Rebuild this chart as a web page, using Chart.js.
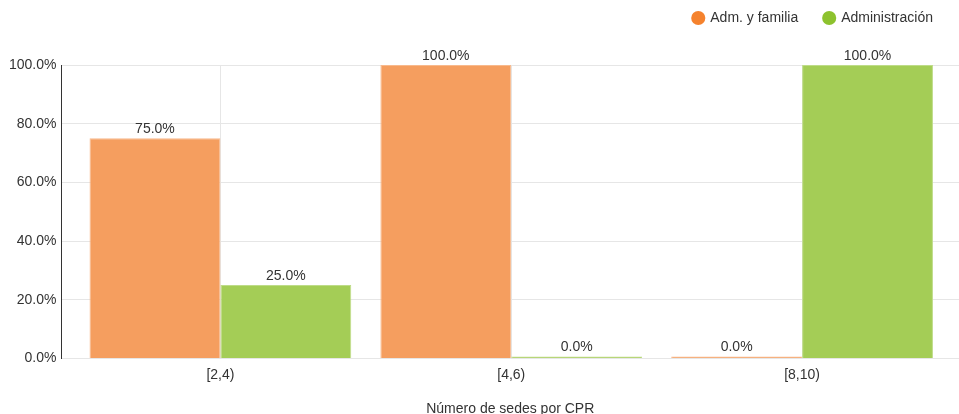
<!DOCTYPE html>
<html>
<head>
<meta charset="utf-8">
<script src="https://cdn.jsdelivr.net/npm/chart.js@4/dist/chart.umd.min.js"></script>
<style>
  html, body { margin: 0; padding: 0; background: #fff; }
  #wrap { width: 959px; height: 414px; }
</style>
</head>
<body>
<div id="wrap"><canvas id="c" width="959" height="414"></canvas></div>
<script>
// Share of CPRs by number of sites, per profile
const categories = ['[2,4)', '[4,6)', '[8,10)'];
const admFamilia = [75, 100, 0];
const administracion = [25, 0, 100];
const yTicks = [0, 20, 40, 60, 80, 100];
const seriesNames = ['Adm. y familia', 'Administración'];

const FONT = '"Liberation Sans", Arial, sans-serif';
const TEXT = '#333333';
const GRID = '#e6e6e6';
const legendColors = ['#F5822D', '#8DC22E'];
const LEGEND_HEIGHT = 80;

function fmtPct(v) { return v.toFixed(1) + '%'; }

// Draws the value above every bar
const valueLabels = {
  id: 'valueLabels',
  afterDatasetsDraw(chart) {
    const ctx = chart.ctx;
    ctx.save();
    ctx.font = '14px ' + FONT;
    ctx.fillStyle = TEXT;
    ctx.textAlign = 'center';
    ctx.textBaseline = 'bottom';
    chart.data.datasets.forEach((ds, di) => {
      const meta = chart.getDatasetMeta(di);
      meta.data.forEach((bar, i) => {
        const p = bar.getProps(['x', 'y'], true);
        ctx.fillText(fmtPct(ds.data[i].y), p.x, p.y - 2);
      });
    });
    ctx.restore();
  }
};

// Leaves a fixed band for the legend above the plot
const legendSpace = {
  id: 'legendSpace',
  beforeInit(chart) {
    const origFit = chart.legend.fit;
    chart.legend.fit = function () {
      origFit.call(this);
      this.height = LEGEND_HEIGHT;
    };
  }
};

const toPoints = arr => arr.map((v, i) => ({ x: i, y: v }));

new Chart(document.getElementById('c'), {
  type: 'bar',
  data: {
    datasets: [
      {
        label: seriesNames[0],
        data: toPoints(admFamilia),
        backgroundColor: '#F59E5F',
        borderColor: '#F8B98C',
        borderWidth: 1,
        minBarLength: 2
      },
      {
        label: seriesNames[1],
        data: toPoints(administracion),
        backgroundColor: '#A4CD56',
        borderColor: '#BEDC88',
        borderWidth: 1,
        minBarLength: 2
      }
    ]
  },
  options: {
    responsive: false,
    animation: false,
    layout: { padding: { left: 4, right: 0, top: -15, bottom: -4 } },
    datasets: { bar: { categoryPercentage: 0.9, barPercentage: 1.0 } },
    plugins: {
      tooltip: { enabled: false },
      legend: {
        position: 'top',
        align: 'end',
        labels: {
          font: { family: FONT, size: 14 },
          color: TEXT,
          usePointStyle: true,
          pointStyle: 'circle',
          boxWidth: 10,
          boxHeight: 10,
          padding: 26,
          generateLabels(chart) {
            return chart.data.datasets.map((ds, i) => ({
              text: ds.label,
              fillStyle: legendColors[i],
              strokeStyle: legendColors[i],
              lineWidth: 0,
              pointStyle: 'circle',
              datasetIndex: i,
              hidden: false,
              fontColor: TEXT
            }));
          }
        }
      }
    },
    scales: {
      x: {
        type: 'linear',
        offset: false,
        min: -0.5464,
        max: 2.5395,
        afterBuildTicks(scale) {
          scale.ticks = categories.map((_, i) => ({ value: i }));
        },
        ticks: {
          font: { family: FONT, size: 14 },
          color: TEXT,
          padding: 8,
          maxRotation: 0,
          autoSkip: false,
          callback: v => categories[v]
        },
        grid: { color: GRID, drawTicks: false, offset: false },
        border: { color: GRID },
        title: {
          display: true,
          text: 'Número de sedes por CPR',
          font: { family: FONT, size: 14 },
          color: TEXT,
          padding: { top: 10, bottom: 0 }
        }
      },
      y: {
        min: 0,
        max: 100,
        afterBuildTicks(scale) {
          scale.ticks = yTicks.map(v => ({ value: v }));
        },
        ticks: {
          font: { family: FONT, size: 14 },
          color: TEXT,
          padding: 5,
          callback: v => fmtPct(v)
        },
        grid: { color: GRID, drawTicks: false },
        border: { color: '#333333' }
      }
    }
  },
  plugins: [valueLabels, legendSpace]
});
</script>
</body>
</html>
